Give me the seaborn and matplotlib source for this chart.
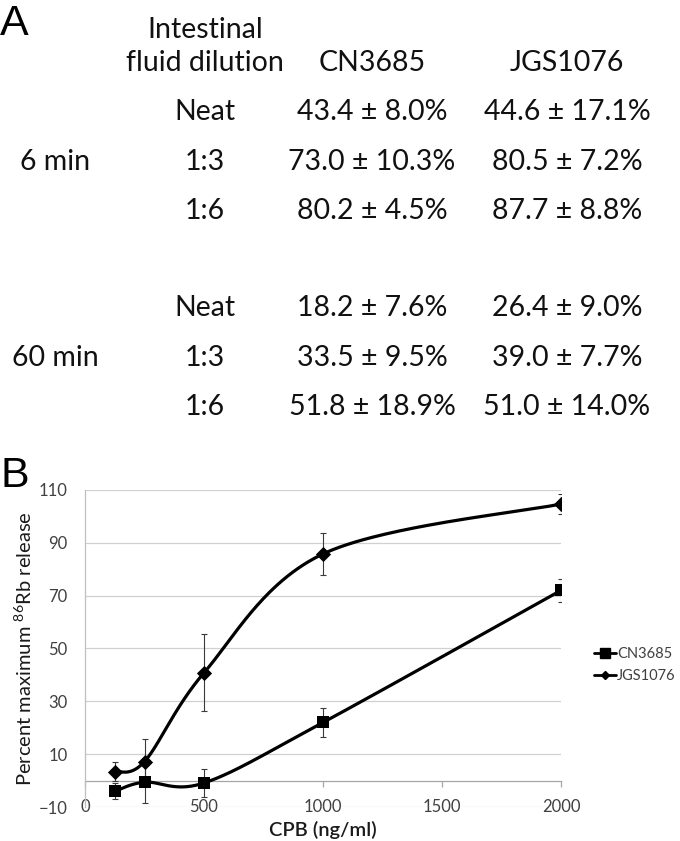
import numpy as np
import matplotlib
matplotlib.use("Agg")
import matplotlib.pyplot as plt
from matplotlib.lines import Line2D
import seaborn as sns
import pandas as pd

# ---------------- data ----------------
# Panel A table
strains = ["CN3685", "JGS1076"]
time_points = ["6 min", "60 min"]
dilutions = ["Neat", "1:3", "1:6"]
cn3685_6min = ["43.4 ± 8.0%", "73.0 ± 10.3%", "80.2 ± 4.5%"]
jgs1076_6min = ["44.6 ± 17.1%", "80.5 ± 7.2%", "87.7 ± 8.8%"]
cn3685_60min = ["18.2 ± 7.6%", "33.5 ± 9.5%", "51.8 ± 18.9%"]
jgs1076_60min = ["26.4 ± 9.0%", "39.0 ± 7.7%", "51.0 ± 14.0%"]

# Panel B
cpb_conc = [125, 250, 500, 1000, 2000]
cn3685_release = [-4.1, -0.6, -0.9, 22.0, 72.0]
cn3685_err = [3.0, 7.8, 5.3, 5.4, 4.4]
jgs1076_release = [3.4, 7.2, 40.8, 85.8, 104.7]
jgs1076_err = [3.6, 8.6, 14.6, 8.0, 3.6]
y_ticks = [-10, 10, 30, 50, 70, 90, 110]
x_ticks = [0, 500, 1000, 1500, 2000]

# ---------------- style ----------------
sns.set_theme(style="white")
plt.rcParams["font.family"] = ["Lato", "DejaVu Sans"]
plt.rcParams["mathtext.fontset"] = "custom"
plt.rcParams["mathtext.rm"] = "Lato"

W, H = 680, 841
fig = plt.figure(figsize=(W / 100, H / 100), dpi=100)

def fx(px):
    return px / W

def fy(py):
    return 1 - py / H

tcol = "#111111"
tsize = 20.5
tweight = "normal"

# Panel letters
fig.text(fx(0), fy(24), "A", fontsize=31, family="Liberation Sans", va="center", ha="left", color="black")
fig.text(fx(0), fy(476), "B", fontsize=31, family="Liberation Sans", va="center", ha="left", color="black")

# Table header
col_dil, col_cn, col_jgs, col_time = 205, 372, 567, 55
fig.text(fx(col_dil), fy(30), "Intestinal", fontsize=tsize, weight=tweight, ha="center", va="center", color=tcol)
fig.text(fx(col_dil), fy(63), "fluid dilution", fontsize=tsize, weight=tweight, ha="center", va="center", color=tcol)
fig.text(fx(col_cn), fy(63), strains[0], fontsize=tsize, weight=tweight, ha="center", va="center", color=tcol)
fig.text(fx(col_jgs), fy(63), strains[1], fontsize=tsize, weight=tweight, ha="center", va="center", color=tcol)

row_y = {"6 min": [112, 162, 211], "60 min": [308, 358, 407]}
vals = {"6 min": (cn3685_6min, jgs1076_6min), "60 min": (cn3685_60min, jgs1076_60min)}
for tp in time_points:
    ys = row_y[tp]
    fig.text(fx(col_time), fy(ys[1]), tp, fontsize=tsize, weight=tweight, ha="center", va="center", color=tcol)
    cn_vals, jgs_vals = vals[tp]
    for i, d in enumerate(dilutions):
        fig.text(fx(col_dil), fy(ys[i]), d, fontsize=tsize, weight=tweight, ha="center", va="center", color=tcol)
        fig.text(fx(col_cn), fy(ys[i]), cn_vals[i], fontsize=tsize, weight=tweight, ha="center", va="center", color=tcol)
        fig.text(fx(col_jgs), fy(ys[i]), jgs_vals[i], fontsize=tsize, weight=tweight, ha="center", va="center", color=tcol)

# ---------------- panel B ----------------
x0, x1 = 85, 561
y_top, y_bot = 490, 807
ax = fig.add_axes([fx(x0), fy(y_bot), fx(x1 - x0), (y_bot - y_top) / H])
ax.set_xlim(0, 2000)
ax.set_ylim(-10, 110)
ax.set_yticks(y_ticks)
ax.set_xticks(x_ticks)

grid_c = "#d0d0d0"
for s in ["top", "right"]:
    ax.spines[s].set_visible(False)
ax.spines["bottom"].set_visible(False)
ax.spines["left"].set_color("#bfbfbf")
ax.spines["left"].set_linewidth(0.9)
ax.yaxis.grid(True, color=grid_c, linewidth=0.9)
ax.set_axisbelow(True)
ax.tick_params(axis="y", direction="out", length=4.5, width=0.9, color=grid_c, pad=8,
               labelsize=12, labelcolor="#404040")
ax.tick_params(axis="x", length=0, pad=0, labelsize=12, labelcolor="#404040")
for lab in ax.get_xticklabels():
    lab.set_va("center")
    lab.set_bbox(dict(facecolor="white", edgecolor="none", pad=0.8))

# zero axis line with outward ticks
sec = ax.secondary_xaxis(10 / 120)
sec.set_xticks(x_ticks)
sec.tick_params(axis="x", direction="out", length=4.5, width=0.9, color="#a6a6a6", labelbottom=False)
sec.spines["bottom"].set_color("#a6a6a6")
sec.spines["bottom"].set_linewidth(0.9)

# smooth curve helper (Excel-like Bezier smoothing in screen space)
sx = (x1 - x0) / 2000.0
sy = (y_bot - y_top) / 120.0

def smooth_curve(xs, ys, n=60):
    P = np.column_stack([np.asarray(xs, float) * sx, np.asarray(ys, float) * sy])
    out = []
    for i in range(len(P) - 1):
        p0 = P[i - 1] if i > 0 else P[i]
        p1, p2 = P[i], P[i + 1]
        p3 = P[i + 2] if i + 2 < len(P) else P[i + 1]
        c1 = p1 + (p2 - p0) / 6.0
        c2 = p2 - (p3 - p1) / 6.0
        t = np.linspace(0, 1, n)[:, None]
        seg = (1 - t) ** 3 * p1 + 3 * (1 - t) ** 2 * t * c1 + 3 * (1 - t) * t ** 2 * c2 + t ** 3 * p2
        out.append(seg if i == 0 else seg[1:])
    out = np.vstack(out)
    return out[:, 0] / sx, out[:, 1] / sy

df = pd.DataFrame({
    "conc": cpb_conc * 2,
    "release": cn3685_release + jgs1076_release,
    "err": cn3685_err + jgs1076_err,
    "strain": ["CN3685"] * 5 + ["JGS1076"] * 5,
})

markers = {"CN3685": "s", "JGS1076": "D"}
msizes = {"CN3685": 80, "JGS1076": 60}
for strain in strains:
    sub = df[df.strain == strain]
    ax.errorbar(sub.conc, sub.release, yerr=sub.err, fmt="none", ecolor="#3a3a3a",
                elinewidth=0.8, capsize=2.5, capthick=0.8, zorder=2)
    cx, cy = smooth_curve(sub.conc.tolist(), sub.release.tolist())
    ax.plot(cx, cy, color="black", lw=2.3, zorder=3, solid_capstyle="round")
    sns.scatterplot(data=sub, x="conc", y="release", marker=markers[strain], s=msizes[strain],
                    color="black", edgecolor="black", linewidth=0, ax=ax, zorder=4, legend=False)

ax.set_xlabel("CPB (ng/ml)", fontsize=14.5, weight="semibold", color="#1a1a1a", labelpad=4)
ax.set_ylabel(r"Percent maximum $\mathregular{^{86}}$Rb release", fontsize=14.5, weight="normal",
              color="#1a1a1a", labelpad=3)

handles = [
    Line2D([], [], color="black", lw=2, marker="s", markersize=6.5),
    Line2D([], [], color="black", lw=2, marker="D", markersize=4.5),
]
fig.legend(handles, strains, loc="center left", bbox_to_anchor=(fx(594), fy(665)),
           frameon=False, fontsize=10.5, handlelength=1.5, handletextpad=0.1, labelspacing=0.6,
           borderpad=0, borderaxespad=0, labelcolor="#404040")

fig.savefig("out.png", dpi=100)
